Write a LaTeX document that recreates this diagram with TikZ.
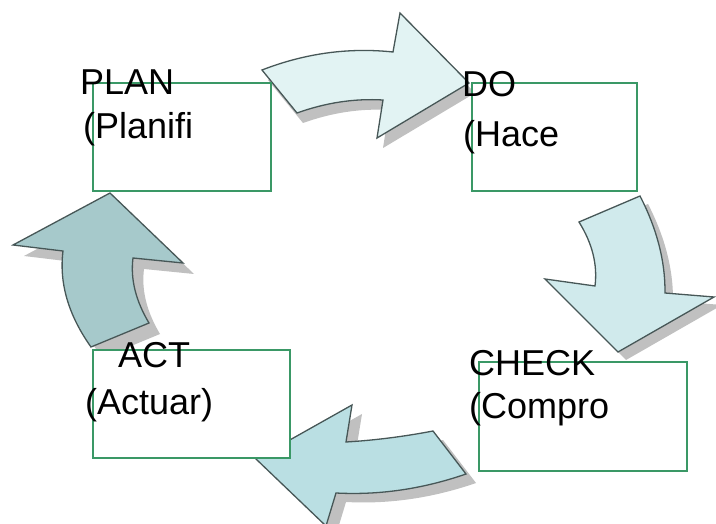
\documentclass[tikz,border=0pt]{standalone}
\usepackage{fontspec}
\setmainfont{Liberation Sans}
\definecolor{outline}{HTML}{475757}
\definecolor{shadowgray}{HTML}{C0C0C0}
\definecolor{boxgreen}{HTML}{3A9866}
\definecolor{fillA}{HTML}{E2F3F3}
\definecolor{fillB}{HTML}{D0EAEC}
\definecolor{fillC}{HTML}{BADFE3}
\definecolor{fillD}{HTML}{A6C9CB}
% outlines of the four curved block arrows
\newcommand{\pathPlanDo}{(262,70) .. controls (305,53.3) and (348.7,47.3) .. (393,52) -- (400,13) -- (469,83) -- (377,138) -- (383,100) .. controls (354.3,98.3) and (325.7,102.7) .. (297,113) -- cycle}
\newcommand{\pathDoCheck}{(579,222) -- (640,196) .. controls (657,229) and (665.3,261.3) .. (665,293) -- (714,297) -- (618,352) -- (545,279) -- (595,286) .. controls (597.7,264.7) and (592.3,243.3) .. (579,222) -- cycle}
\newcommand{\pathCheckAct}{(433,431) -- (466,474) .. controls (422.7,489) and (379.3,495.3) .. (336,493) -- (326,526) -- (256,459) -- (352,405) -- (346,442) .. controls (374.3,440.3) and (403.3,436.7) .. (433,431) -- cycle}
\newcommand{\pathActPlan}{(91,347) -- (149,323) .. controls (135.7,300.7) and (130.3,279) .. (133,258) -- (183,263) -- (110,193) -- (13,245) -- (63,251) .. controls (59,283) and (68.3,315) .. (91,347) -- cycle}
\begin{document}
\begin{tikzpicture}[x=1pt,y=-1pt,
  cyclearrow/.style={draw=outline, line width=1.3pt, line join=miter},
  dropshadow/.style={fill=shadowgray},
  stagebox/.style={draw=boxgreen, line width=1.6pt, fill=white, inner sep=0pt, anchor=north west},
  stagetext/.style={anchor=base west, inner sep=0pt, font=\fontsize{36}{43}\selectfont}]
\useasboundingbox[fill=white] (0,0) rectangle (716,524);

% shadows, each cast down and to the right
\begin{scope}[shift={(6,10)}]
  \fill[dropshadow] \pathPlanDo;
\end{scope}
\begin{scope}[shift={(8,8)}]
  \fill[dropshadow] \pathDoCheck;
\end{scope}
\begin{scope}[shift={(10,9)}]
  \fill[dropshadow] \pathCheckAct;
\end{scope}
\begin{scope}[shift={(11,11)}]
  \fill[dropshadow] \pathActPlan;
\end{scope}

% arrows
\filldraw[cyclearrow, fill=fillA] \pathPlanDo;
\filldraw[cyclearrow, fill=fillB] \pathDoCheck;
\filldraw[cyclearrow, fill=fillC] \pathCheckAct;
\filldraw[cyclearrow, fill=fillD] \pathActPlan;

% stage boxes
\node[stagebox, minimum width=178pt, minimum height=108pt] (plan)  at (92,82)  {};
\node[stagebox, minimum width=165pt, minimum height=108pt] (do)    at (471,82) {};
\node[stagebox, minimum width=208pt, minimum height=109pt] (check) at (478,361) {};
\node[stagebox, minimum width=197pt, minimum height=108pt] (act)   at (92,349) {};

% labels
\node[stagetext] (plan-a)  at (80,95)   {PLAN};
\node[stagetext] (plan-b)  at (83,139)  {(Planifi};
\node[stagetext] (do-a)    at (462,97)  {DO};
\node[stagetext] (do-b)    at (463,147) {(Hace};
\node[stagetext] (check-a) at (469,375) {CHECK};
\node[stagetext] (check-b) at (469,418) {(Compro};
\node[stagetext] (act-a)   at (118,367) {ACT};
\node[stagetext] (act-b)   at (85,414)  {(Actuar)};
\end{tikzpicture}
\end{document}
